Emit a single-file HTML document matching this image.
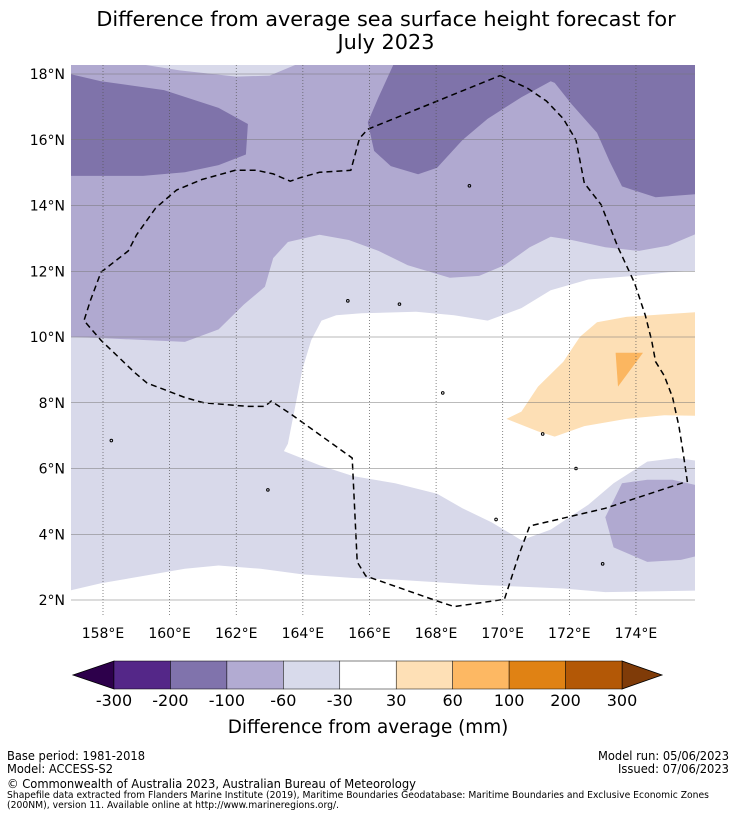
<!DOCTYPE html>
<html><head><meta charset="utf-8"><style>
body{margin:0;background:#fff;}
svg{display:block;font-family:"DejaVu Sans","Liberation Sans",sans-serif;}
</style></head><body>
<svg id="chart" width="736" height="816" viewBox="0 0 736 816">
<text x="386" y="26" font-size="20.8" text-anchor="middle">Difference from average sea surface height forecast for</text>
<text x="386" y="49" font-size="20.8" text-anchor="middle">July 2023</text>
<defs><clipPath id="mapclip"><rect x="71" y="65" width="624" height="550"/></clipPath></defs>
<g id="map" clip-path="url(#mapclip)"></g>
<g id="grid"></g>
<g id="axes"></g>
<g id="cbar"></g>
<text x="368" y="733" font-size="18.4" text-anchor="middle">Difference from average (mm)</text>
<g font-size="12">
<text x="7" y="760" textLength="138" lengthAdjust="spacingAndGlyphs">Base period: 1981-2018</text>
<text x="7" y="773" textLength="106" lengthAdjust="spacingAndGlyphs">Model: ACCESS-S2</text>
<text x="598" y="760" textLength="131" lengthAdjust="spacingAndGlyphs">Model run: 05/06/2023</text>
<text x="618" y="773" textLength="111" lengthAdjust="spacingAndGlyphs">Issued: 07/06/2023</text>
<text x="7" y="788" textLength="409" lengthAdjust="spacingAndGlyphs">© Commonwealth of Australia 2023, Australian Bureau of Meteorology</text>
<text x="7" y="798" font-size="9.3" textLength="702" lengthAdjust="spacingAndGlyphs">Shapefile data extracted from Flanders Marine Institute (2019), Maritime Boundaries Geodatabase: Maritime Boundaries and Exclusive Economic Zones</text>
<text x="7" y="808" font-size="9.3" textLength="332" lengthAdjust="spacingAndGlyphs">(200NM), version 11. Available online at http://www.marineregions.org/.</text>
</g>
</svg>
<script>
const lonTicks=[158,160,162,164,166,168,170,172,174];
const latTicks=[2,4,6,8,10,12,14,16,18];
const cbarLabels=["-300","-200","-100","-60","-30","30","60","100","200","300"];
const cbarColors=["#542788","#8073ac","#b2abd2","#d8daeb","#ffffff","#fee0b6","#fdb863","#e08214","#b35806"];
const cbarExtend=["#2d004b","#7f3b08"];
const lightColor="#d8d9ea", midColor="#b0a9d0", darkColor="#7f73aa", whiteColor="#ffffff", orangeLight="#fddfb5", orangeMid="#fbb660";
const midRegion=[[157,18.4],[176,18.4],[176,13.22],[174.97,12.78],[174.09,12.62],[173.08,12.73],[172.07,12.95],[171.44,13.05],[170.81,12.73],[170.05,12.18],[169.29,11.86],[168.41,11.8],[167.15,12.18],[166.27,12.62],[165.38,12.95],[164.5,13.11],[163.55,12.89],[163.11,12.4],[162.86,11.53],[162.23,10.99],[161.47,10.23],[160.46,9.85],[158.06,9.96],[157,10.01]];
const topLight=[[158.9,18.4],[158.95,18.33],[160.3,18.11],[162,17.92],[163,17.95],[163.9,18.33],[163.9,18.4]];
const darkLeft=[[157,18.0],[157.94,17.78],[159.83,17.51],[161.47,16.97],[162.35,16.48],[162.29,15.55],[161.47,15.23],[160.46,15.01],[159.2,14.9],[157,14.9]];
const darkRight=[[166.77,18.4],[166.27,17.29],[165.95,16.53],[166.14,15.66],[166.64,15.2],[167.46,14.95],[168.03,15.15],[168.79,15.99],[169.55,16.64],[170.56,17.29],[171.44,17.78],[171.56,17.73],[172.07,17.08],[172.83,16.21],[173.21,15.34],[173.58,14.58],[174.59,14.25],[176,14.36],[176,18.4]];
const whiteCenter=[[164.56,10.5],[164.25,9.9],[163.99,9.03],[163.74,7.73],[163.55,6.75],[163.43,6.53],[164.5,6.1],[165.51,5.77],[166.77,5.55],[168.03,5.23],[168.79,4.79],[169.67,4.36],[170.56,3.82],[171.44,4.14],[172.57,4.9],[173.33,5.55],[174.34,6.21],[175.22,6.32],[176,6.21],[176,12.02],[174.97,11.97],[173.96,11.86],[172.57,11.75],[171.44,11.42],[170.56,10.88],[169.55,10.5],[168.54,10.66],[167.4,10.77],[165.76,10.72],[165,10.66]];
const whiteBottom=[[157,2.29],[157.94,2.51],[159.2,2.73],[160.46,2.95],[161.47,3.05],[162.73,2.95],[163.99,2.78],[165.51,2.67],[166.77,2.62],[169.29,2.46],[171.82,2.35],[173.08,2.24],[176,2.29],[176,1.4],[157,1.4]];
const midBottomRight=[[173.58,5.55],[173.08,4.52],[173.33,3.6],[174.34,3.16],[175.35,3.22],[176,3.38],[176,5.45],[175.1,5.66],[174.34,5.66]];
const orangeRegion=[[170.11,7.51],[170.56,7.73],[171.06,8.49],[171.82,9.25],[172.32,10.01],[172.83,10.45],[173.71,10.61],[176,10.77],[176,7.6],[174.85,7.62],[173.71,7.51],[172.45,7.29],[171.56,6.97],[171.06,7.13]];
const orangeTri=[[173.39,9.52],[174.21,9.52],[173.46,8.49]];
const eezLine=[[169.92,17.95],[170.74,17.57],[171.31,17.18],[171.82,16.64],[172.2,15.99],[172.45,14.68],[172.95,14.03],[173.46,12.73],[173.96,11.64],[174.28,10.66],[174.47,9.9],[174.59,9.25],[174.85,8.82],[175.1,8.16],[175.29,7.29],[175.41,6.53],[175.54,5.61],[173.08,4.79],[170.81,4.25],[170.49,3.38],[170.05,2.02],[168.54,1.8],[168.03,1.97],[165.89,2.73],[165.63,3.16],[165.48,6.32],[163.62,7.67],[163.05,8.05],[162.86,7.89],[162.35,7.89],[161.03,8.0],[160.46,8.16],[159.32,8.6],[158.95,8.92],[157.94,9.9],[157.43,10.5],[157.62,11.1],[157.94,11.97],[158.76,12.62],[159.01,13.11],[159.58,13.92],[160.21,14.47],[160.97,14.79],[161.97,15.07],[162.61,15.07],[163.11,14.96],[163.62,14.74],[163.93,14.85],[164.5,15.01],[165.44,15.07],[165.7,16.04],[165.95,16.32],[169.92,17.95]];
const islands=[[158.25,6.85],[162.95,5.35],[165.35,11.1],[166.9,11.0],[169.8,4.45],[168.2,8.3],[169.0,14.6],[173.0,3.1],[171.2,7.05],[172.2,6.0]];

const NS="http://www.w3.org/2000/svg";
function xs(lon){return 103+(lon-158)*33.31;}
function ys(lat){return 74+(18-lat)*32.875;}
function mk(tag,attrs,parent){const e=document.createElementNS(NS,tag);for(const k in attrs)e.setAttribute(k,attrs[k]);parent.appendChild(e);return e;}
function pts(a){return a.map(p=>xs(p[0]).toFixed(1)+","+ys(p[1]).toFixed(1)).join(" ");}
const map=document.getElementById("map");
let r=mk("rect",{x:71,y:65,width:624,height:550,fill:lightColor},map);


const layers=[[midRegion,midColor,'contour-mid'],[topLight,lightColor,'contour-light-top'],[darkLeft,darkColor,'contour-dark-west'],[darkRight,darkColor,'contour-dark-east'],[whiteCenter,whiteColor,'contour-neutral-centre'],[whiteBottom,whiteColor,'contour-neutral-south'],[midBottomRight,midColor,'contour-mid-southeast'],[orangeRegion,orangeLight,'contour-positive'],[orangeTri,orangeMid,'contour-positive-high']];
for(const L of layers){
  const p=mk("polygon",{points:pts(L[0]),fill:L[1]},map);
  
  
}
const eez=mk("polyline",{points:pts(eezLine),fill:"none",stroke:"#000","stroke-width":1.5,"stroke-dasharray":"6,4"},map);


for(const c of islands){
  const d=mk("circle",{cx:xs(c[0]),cy:ys(c[1]),r:1.3,fill:"none",stroke:"#000","stroke-width":1},map);
  
  
}
const grid=document.getElementById("grid");
const axes=document.getElementById("axes");
for(const lon of lonTicks){
  const g=mk("line",{x1:xs(lon),x2:xs(lon),y1:65,y2:615,stroke:"#555","stroke-width":0.7,"stroke-dasharray":"1,2"},grid);
  
  
  const t=mk("text",{x:xs(lon),y:638,"font-size":14,"text-anchor":"middle"},axes);
  t.textContent=lon+"°E";
  
  
}
for(const lat of latTicks){
  const g=mk("line",{x1:71,x2:695,y1:ys(lat),y2:ys(lat),stroke:"#777","stroke-width":0.6},grid);
  
  
  const t=mk("text",{x:65,y:ys(lat)+5,"font-size":14,"text-anchor":"end"},axes);
  t.textContent=lat+"°N";
  
  
}
const cb=document.getElementById("cbar");
const cx0=114,cx1=622,cy0=661,cy1=689,seg=(cx1-cx0)/cbarColors.length;
let lt=mk("polygon",{points:`${cx0},${cy0} ${cx0},${cy1} 73,${(cy0+cy1)/2}`,fill:cbarExtend[0],stroke:"#000","stroke-width":0.8},cb);


let rt=mk("polygon",{points:`${cx1},${cy0} ${cx1},${cy1} 662,${(cy0+cy1)/2}`,fill:cbarExtend[1],stroke:"#000","stroke-width":0.8},cb);


cbarColors.forEach((c,i)=>{
  const s=mk("rect",{x:cx0+i*seg,y:cy0,width:seg,height:cy1-cy0,fill:c,stroke:"#000","stroke-width":0.5},cb);
  
  
});
cbarLabels.forEach((l,i)=>{
  const t=mk("text",{x:cx0+i*seg,y:706,"font-size":16,"text-anchor":"middle"},cb);
  t.textContent=l;
  
  
});
</script>
</body></html>
